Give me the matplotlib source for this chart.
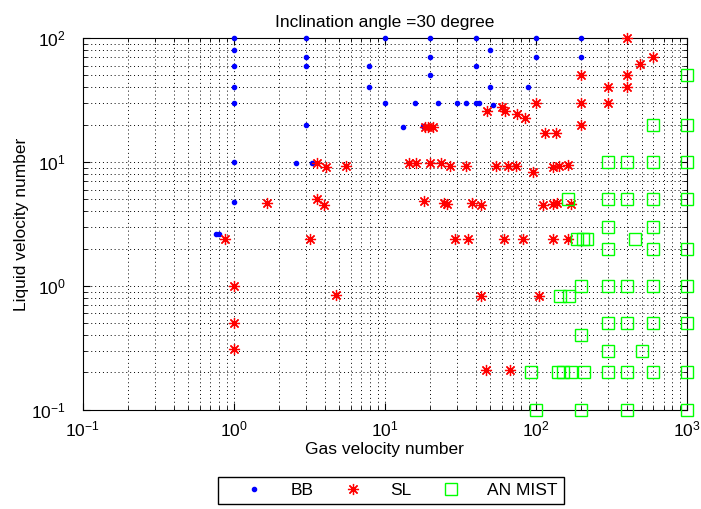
import numpy as np
import matplotlib
matplotlib.use('Agg')
import matplotlib.pyplot as plt

plt.rcParams['font.family'] = ['Liberation Sans', 'DejaVu Sans']
plt.rcParams['mathtext.default'] = 'regular'

# BB (blue dots)
bb_x = [1, 1, 1, 1, 1, 1, 1,
        3, 3, 3, 3, 2.6, 3.3,
        7.9, 7.9, 0.76, 0.8,
        10, 20, 40, 100, 200,
        50, 20, 100, 200, 40, 20, 50, 89,
        10, 15.8, 22.5, 30, 34.7, 40, 42, 52,
        13.1, 17.9]
bb_y = [100, 80, 60, 40, 30, 10, 4.75,
        100, 70, 60, 20, 9.8, 9.8,
        60, 40, 2.6, 2.6,
        100, 100, 100, 100, 100,
        80, 70, 70, 70, 60, 50, 40, 40,
        30, 30, 29.7, 30, 29.7, 30, 30, 28.8,
        19.3, 19.5]

# SL (red asterisks)
sl_x = [1.67, 3.53, 3.95, 0.88, 3.18, 1, 1, 1, 4.73,
        3.53, 4.1, 5.57,
        18.1, 24.6, 25.6, 37.8, 43.6, 111.7, 130, 138, 170,
        29.1, 35.6, 61.4, 81.6, 130, 164,
        43.6, 105, 46.5, 67.3,
        18.4, 19.4, 20.9,
        14.5, 16.2, 19.9, 23.5, 26.9, 34.2, 54.3, 65.6, 73.4, 96, 129, 143, 164,
        100, 47.6, 59.8, 62.3, 74.5, 84.5, 115, 136,
        200, 200, 200, 300, 300, 400, 400, 400, 490, 600]
sl_y = [4.7, 5.0, 4.5, 2.4, 2.4, 1, 0.5, 0.31, 0.85,
        9.9, 9.2, 9.3,
        4.88, 4.7, 4.6, 4.7, 4.5, 4.5, 4.6, 4.7, 4.6,
        2.4, 2.4, 2.4, 2.4, 2.4, 2.4,
        0.83, 0.83, 0.21, 0.21,
        19.3, 19.3, 19.3,
        9.75, 9.75, 9.75, 9.75, 9.3, 9.25, 9.25, 9.25, 9.25, 8.35, 9.2, 9.3, 9.4,
        30, 25.9, 27.6, 26, 24.4, 22.5, 17.2, 17.2,
        50, 30, 20, 40, 30, 100, 50, 40, 62, 70]

# AN MIST (green squares)
an_x = [162, 300, 400, 600, 1000,
        300, 600,
        188, 204, 219, 450,
        300, 600, 1000,
        200, 300, 400, 600, 1000,
        145, 166,
        300, 400, 600, 1000,
        200, 300, 500,
        93, 141, 152, 170, 208, 300, 400, 600, 1000,
        100, 200, 400, 1000,
        1000, 1000, 600, 1000, 600, 400, 300]
an_y = [5, 5, 5, 5, 5,
        3, 3,
        2.4, 2.4, 2.4, 2.4,
        2, 2, 2,
        1, 1, 1, 1, 1,
        0.83, 0.83,
        0.5, 0.5, 0.5, 0.5,
        0.4, 0.3, 0.3,
        0.2, 0.2, 0.2, 0.2, 0.2, 0.2, 0.2, 0.2, 0.2,
        0.1, 0.1, 0.1, 0.1,
        50, 20, 20, 10, 10, 10, 10]

fs = 12.5
fig = plt.figure(figsize=(7.01, 5.09), dpi=100)
ax = fig.add_axes([0.118, 0.195, 0.862, 0.730])

ax.loglog(bb_x, bb_y, '.', color=(0, 0, 1), markersize=6, label='BB', clip_on=False, zorder=3)
ax.loglog(sl_x, sl_y, linestyle='none', marker=(8, 2, 0), color=(1, 0, 0),
          markersize=8, markeredgewidth=0.9, label='SL', clip_on=False, zorder=3)
ax.loglog(an_x, an_y, 's', markerfacecolor='none', markeredgecolor=(0, 1, 0),
          markersize=8, markeredgewidth=1.0, label='AN MIST', clip_on=False, zorder=3)

ax.set_xlim(0.1, 1000)
ax.set_ylim(0.1, 100)
ax.grid(True, which='both', linestyle=(0, (1, 3)), color='black', linewidth=0.7)
ax.tick_params(which='both', direction='in', top=True, right=True, labelsize=fs)
ax.tick_params(which='major', length=5)
ax.tick_params(which='minor', length=3)
ax.tick_params(axis='x', which='both', pad=7)
ax.tick_params(axis='y', which='both', pad=12)
for s in ax.spines.values():
    s.set_linewidth(0.8)

ax.set_title('Inclination angle =30 degree', fontsize=fs, pad=8)
ax.set_xlabel('Gas velocity number', fontsize=fs, labelpad=2)
ax.set_ylabel('Liquid velocity number', fontsize=fs, labelpad=2)

fig.legend(loc='center', bbox_to_anchor=(0.558, 0.036), ncol=3, fancybox=False,
           edgecolor='black', framealpha=1, fontsize=fs, handlelength=3.4,
           handletextpad=0.4, columnspacing=0.6, borderpad=0.35)

fig.savefig('out.png', dpi=100)
